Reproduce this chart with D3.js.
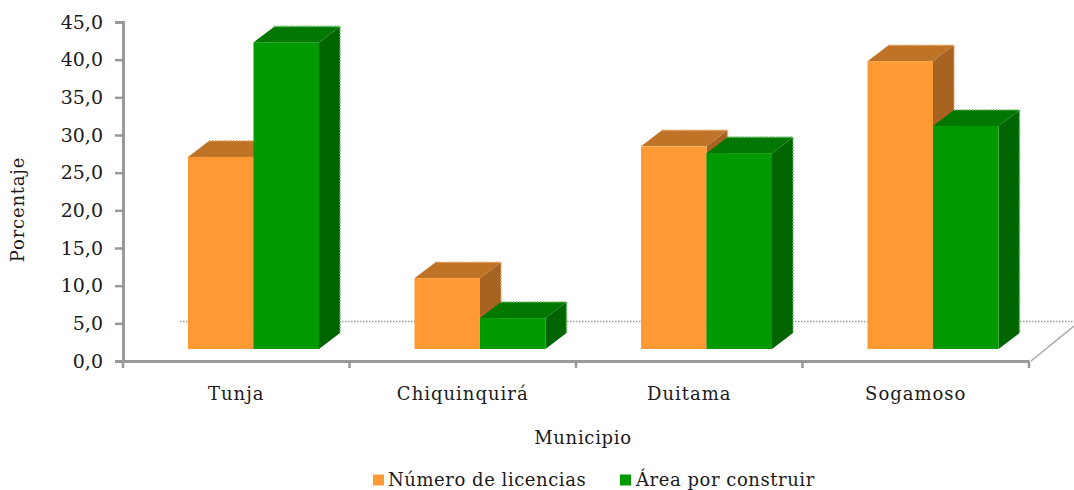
<!DOCTYPE html>
<html><head><meta charset="utf-8">
<script src="https://cdnjs.cloudflare.com/ajax/libs/d3/7.8.5/d3.min.js"></script>
<style>html,body{margin:0;padding:0;background:#fff}svg{display:block}
text{font-family:"DejaVu Serif",serif;fill:#1a1a1a}</style></head>
<body><svg id="c" width="1074" height="490"></svg>
<script>
const categories=["Tunja","Chiquinquirá","Duitama","Sogamoso"];
const seriesNames=["Número de licencias","Área por construir"];
const licencias=[25.5,9.4,26.9,38.2];
const area=[40.7,4.1,26.0,29.6];
const yTicks=[0,5,10,15,20,25,30,35,40,45];

const svg=d3.select("#c");
const fmt=v=>d3.format(".1f")(v).replace(".",",");
const x=d3.scaleBand().domain(categories).range([123,1029]);
const y=d3.scaleLinear().domain([0,45]).range([361,22]);
const sub=d3.scaleBand().domain([0,1]).range([0,131]);
const DX=21,DY=-16,LIFT=12,BAROFF=65;
const palette=[{f:"#FF9933",s:"#A66321",t:"#BF7326",e:"#8FCB8F"},{f:"#009900",s:"#006400",t:"#007800",e:"#55BB55"}];
palette[0].e="#E8A060";
const axisGrey="#999999";

// back floor line and right floor edge
svg.append("line").attr("x1",180).attr("x2",1074).attr("y1",321.5).attr("y2",321.5)
  .attr("stroke","#9a9a9a").attr("stroke-width",1.4).attr("stroke-dasharray","1.5 1.5");
svg.append("line").attr("x1",1031).attr("y1",y(0)).attr("x2",1074).attr("y2",326)
  .attr("stroke","#a8a8a8").attr("stroke-width",1.6);

// bars
const rows=categories.flatMap((c,i)=>[{c,k:0,v:licencias[i]},{c,k:1,v:area[i]}]);
const gx=r=>x(r.c)+BAROFF+sub(r.k);
const w=sub.bandwidth();
const base=y(0)-LIFT;
const g=svg.append("g");
rows.forEach(r=>{
  const x0=gx(r),x1=x0+w,top=y(r.v)-LIFT,p=palette[r.k];
  const bar=g.append("g");
  bar.append("path").attr("fill",p.t)
    .attr("d",d3.line()([[x0,top],[x0+DX,top+DY],[x1+DX,top+DY],[x1,top]]));
  bar.append("path").attr("fill",p.s)
    .attr("d",d3.line()([[x1,top],[x1+DX,top+DY],[x1+DX,base+DY],[x1,base]]));
  bar.append("path").attr("fill","none").attr("stroke",p.e).attr("stroke-width",1.6).attr("stroke-dasharray","1.5 1.5")
    .attr("d",d3.line()([[x0+DX,top+DY],[x1+DX,top+DY],[x1+DX,base+DY]]));
  bar.append("rect").attr("x",x0).attr("y",top).attr("width",w).attr("height",base-top).attr("fill",p.f);
});

// axes
const ya=svg.append("g").attr("transform","translate(123,0)")
  .call(d3.axisLeft(y).tickValues(yTicks).tickFormat(fmt).tickSize(8).tickPadding(12));
const xa=svg.append("g").attr("transform",`translate(0,${y(0)})`)
  .call(d3.axisBottom(x).tickSize(0).tickPadding(26));
[ya,xa].forEach(a=>{a.selectAll(".domain").attr("stroke",axisGrey).attr("stroke-width",3);
  a.selectAll("line").attr("stroke",axisGrey).attr("stroke-width",2.5);});
ya.selectAll("text").style("font-size","19px");
xa.selectAll("text").style("font-size","18px").style("letter-spacing","1px");
x.domain().concat("end").forEach((c,i)=>{
  const px=i<categories.length?x(c):x.range()[1];
  xa.append("line").attr("x1",px).attr("x2",px).attr("y1",0).attr("y2",7).attr("stroke",axisGrey).attr("stroke-width",2.5);
});

// titles
svg.append("text").attr("x",583).attr("y",444).attr("text-anchor","middle").style("font-size","18px").style("letter-spacing",".7px").text("Municipio");
svg.append("text").attr("transform","translate(24,209.5) rotate(-90)").attr("text-anchor","middle").style("font-size","18px").style("letter-spacing",".8px").text("Porcentaje");

// legend
const legendX=[373,620],legendTx=[388,636];
seriesNames.forEach((n,i)=>{
  svg.append("rect").attr("x",legendX[i]).attr("y",474.5).attr("width",11).attr("height",11).attr("fill",palette[i].f);
  svg.append("text").attr("x",legendTx[i]).attr("y",485.5).style("font-size","18px").style("letter-spacing",".55px").text(n);
});
</script></body></html>
